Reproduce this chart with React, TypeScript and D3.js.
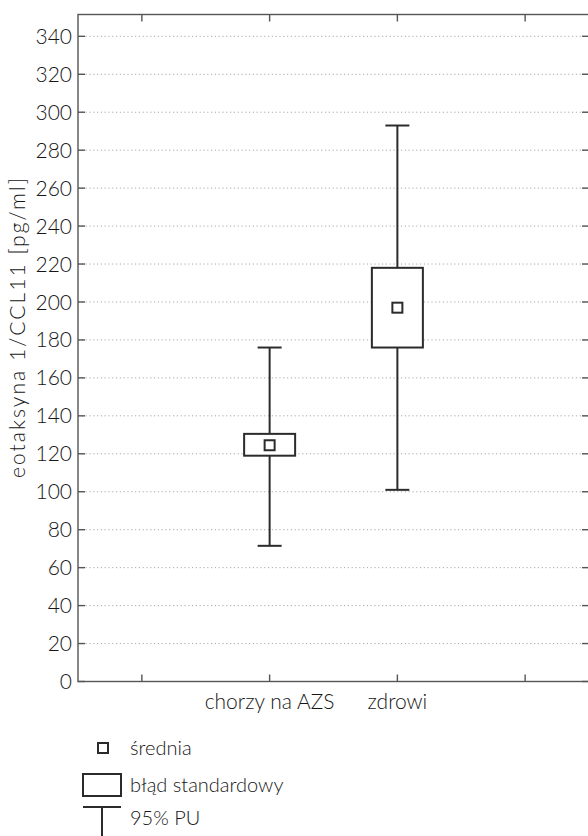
import * as d3 from "d3";

const categories = ["chorzy na AZS", "zdrowi"];
const catPos = [2, 3];
const means = [124.5, 197];
const seLow = [119, 176];
const seHigh = [130.5, 218];
const ciLow = [71.5, 101];
const ciHigh = [176, 293];
const yTicks = [0, 20, 40, 60, 80, 100, 120, 140, 160, 180, 200, 220, 240, 260, 280, 300, 320, 340];
const xTicks = [1, 2, 3, 4];
const yTitle = "eotaksyna 1/CCL11 [pg/ml]";
const legendLabels = ["średnia", "błąd standardowy", "95% PU"];

const W = 588;
const H = 836;
const font = "Lato, 'Open Sans', sans-serif";
const axisCol = "#555";
const ink = "#2b2b2b";
const textCol = "#161616";

const App = () => {
  const x = d3.scaleLinear().domain([0.5, 4.5]).range([78, 589]);
  const y = d3.scaleLinear().domain([0, 351.5]).range([681.5, 14.5]);
  const [x0, x1] = x.range();
  const [y0, y1] = y.range();
  const boxW = 51;
  const capW = 24;
  const sq = 10;

  return (
    <div style={{ position: "absolute", left: 0, top: 0 }}>
      <svg width={W} height={H} style={{ display: "block", background: "#fff" }}>
        {/* grid */}
        {yTicks.filter((t) => t > 0).map((t) => (
          <line key={"g" + t} x1={x0} x2={x1} y1={y(t)} y2={y(t)} stroke="#a8a8a8" strokeWidth={1} strokeDasharray="1.2 2.6" />
        ))}
        {/* frame */}
        <rect x={x0} y={y1} width={x1 - x0} height={y0 - y1} fill="none" stroke={axisCol} strokeWidth={1.4} />
        {/* y ticks, both sides */}
        {yTicks.map((t) => (
          <g key={"t" + t}>
            <line x1={x0} x2={x0 + 7} y1={y(t)} y2={y(t)} stroke={axisCol} strokeWidth={1.4} />
            <line x1={x1 - 7} x2={x1} y1={y(t)} y2={y(t)} stroke={axisCol} strokeWidth={1.4} />
            <text x={x0 - 6} y={y(t)} dy="0.36em" textAnchor="end" fontFamily={font} fontWeight={300} fontSize={21} fill={textCol}>
              {t}
            </text>
          </g>
        ))}
        {/* x ticks top and bottom */}
        {xTicks.map((t) => (
          <g key={"x" + t}>
            <line x1={x(t)} x2={x(t)} y1={y0} y2={y0 - 7} stroke={axisCol} strokeWidth={1.4} />
            <line x1={x(t)} x2={x(t)} y1={y1} y2={y1 + 7} stroke={axisCol} strokeWidth={1.4} />
          </g>
        ))}
        {categories.map((c, i) => (
          <text key={c} x={x(catPos[i])} y={709} textAnchor="middle" fontFamily={font} fontWeight={300} fontSize={21} fill={textCol}>
            {c}
          </text>
        ))}
        <text transform={`translate(25,328) rotate(-90)`} textAnchor="middle" textLength={300} lengthAdjust="spacing" fontFamily={font} fontWeight={300} fontSize={21} fill={textCol}>
          {yTitle}
        </text>
        {/* boxes */}
        {categories.map((c, i) => {
          const cx = x(catPos[i]);
          return (
            <g key={"b" + c} stroke={ink} strokeWidth={2} fill="none">
              <line x1={cx} x2={cx} y1={y(ciHigh[i])} y2={y(seHigh[i])} />
              <line x1={cx} x2={cx} y1={y(seLow[i])} y2={y(ciLow[i])} />
              <line x1={cx - capW / 2} x2={cx + capW / 2} y1={y(ciHigh[i])} y2={y(ciHigh[i])} />
              <line x1={cx - capW / 2} x2={cx + capW / 2} y1={y(ciLow[i])} y2={y(ciLow[i])} />
              <rect x={cx - boxW / 2} y={y(seHigh[i])} width={boxW} height={y(seLow[i]) - y(seHigh[i])} fill="#fff" />
              <rect x={cx - sq / 2} y={y(means[i]) - sq / 2} width={sq} height={sq} />
            </g>
          );
        })}
        {/* legend */}
        <g stroke={ink} strokeWidth={2} fill="none">
          <rect x={98} y={743} width={10} height={10} />
          <rect x={83} y={774} width={38} height={22} />
          <line x1={83} x2={121} y1={807} y2={807} />
          <line x1={102} x2={102} y1={807} y2={840} />
        </g>
        {legendLabels.map((l, i) => (
          <text key={l} x={130} y={[755, 792, 825][i]} fontFamily={font} fontWeight={300} fontSize={20} fill={textCol}>
            {l}
          </text>
        ))}
      </svg>
    </div>
  );
};

export default App;
